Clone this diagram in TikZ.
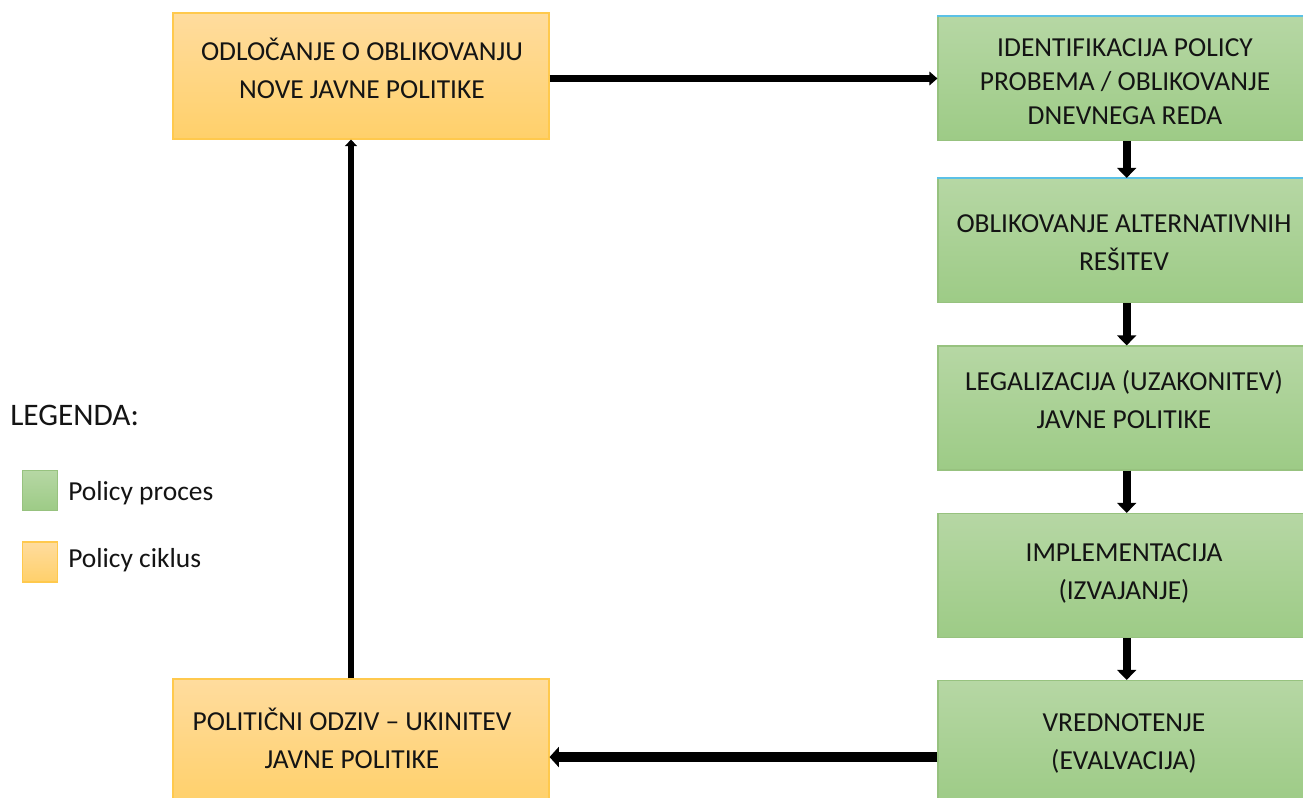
\documentclass[tikz,border=0pt]{standalone}
\usepackage{fontspec}
\setmainfont{Carlito}
\usetikzlibrary{arrows.meta}
\definecolor{gtop}{HTML}{B6D7A4}
\definecolor{gbot}{HTML}{9DCB86}
\definecolor{gline}{HTML}{97C27F}
\definecolor{otop}{HTML}{FFDC9E}
\definecolor{obot}{HTML}{FFD06A}
\definecolor{oline}{HTML}{FFC94D}
\definecolor{txt}{HTML}{141414}
\definecolor{bline}{HTML}{5BC1E6}
\begin{document}
\begin{tikzpicture}[x=0.75pt,y=-0.75pt,
  boxtext/.style={align=center, text=txt, inner sep=0pt, font=\fontsize{20.6}{28.5}\selectfont},
  tighttext/.style={boxtext, font=\fontsize{20.6}{25.5}\selectfont},
  greenbox/.style={draw=gline, line width=0.8pt, top color=gtop, bottom color=gbot, minimum width=279pt, minimum height=93pt, inner sep=0pt},
  orangebox/.style={draw=oline, line width=0.8pt, top color=otop, bottom color=obot, minimum width=282pt, minimum height=94.5pt, inner sep=0pt},
  greensq/.style={draw=gline, line width=0.8pt, top color=gtop, bottom color=gbot, minimum width=26pt, minimum height=30pt, inner sep=0pt},
  orangesq/.style={draw=oline, line width=0.8pt, top color=otop, bottom color=obot, minimum width=26pt, minimum height=30pt, inner sep=0pt},
  legtext/.style={anchor=west, text=txt, inner sep=0pt, font=\fontsize{20.6}{24}\selectfont},
  legtitlestyle/.style={anchor=west, text=txt, inner sep=0pt, font=\fontsize{23.5}{26}\selectfont},
  arrtop/.style={line width=5pt, -{Triangle[length=6pt,width=10pt]}},
  arrleft/.style={line width=5pt, -{Triangle[length=5pt,width=9pt]}},
  arrgreen/.style={line width=6pt, -{Triangle[length=7.5pt,width=14pt]}},
  arrbot/.style={line width=8pt, -{Triangle[length=7pt,width=15pt]}},
  blueedge/.style={draw=bline, line width=2pt}
]
\clip (0,0) rectangle (1303,798);
\fill[white] (0,0) rectangle (1303,798);

% boxes
\node[orangebox] (dec) at (361,76) {};
\node[orangebox] (resp) at (361,742) {};
\node[greenbox] (id) at (1124,78.5) {};
\node[greenbox] (alt) at (1124,240.5) {};
\node[greenbox] (leg) at (1124,408) {};
\node[greenbox] (impl) at (1124,575.5) {};
\node[greenbox] (eval) at (1124,742.5) {};

% texts
\node[boxtext] (dect) at (362,68) {ODLOČANJE O OBLIKOVANJU\\NOVE JAVNE POLITIKE};
\node[boxtext] (respt) at (352,738.5) {POLITIČNI ODZIV – UKINITEV\\JAVNE POLITIKE};
\node[tighttext] (idt) at (1125,81.5) {IDENTIFIKACIJA POLICY\\PROBEMA / OBLIKOVANJE\\DNEVNEGA REDA};
\node[boxtext] (altt) at (1124,242.5) {OBLIKOVANJE ALTERNATIVNIH\\REŠITEV};
\node[boxtext] (legt) at (1124,399.5) {LEGALIZACIJA (UZAKONITEV)\\JAVNE POLITIKE};
\node[boxtext] (implt) at (1124,573.5) {IMPLEMENTACIJA\\(IZVAJANJE)};
\node[boxtext] (evalt) at (1124,743.5) {VREDNOTENJE\\(EVALVACIJA)};

\draw[blueedge] (id.north west) -- (id.north east);
\draw[blueedge] (alt.north west) -- (alt.north east);

% connectors
\draw[arrtop] (id.west -| dec.east) -- (id.west);
\draw[arrleft] ([xshift=-7.5pt]resp.north) -- ([xshift=-7.5pt]dec.south);
\draw[arrgreen] ([xshift=2pt]id.south) -- ([xshift=2pt]alt.north);
\draw[arrgreen] ([xshift=2pt]alt.south) -- ([xshift=2pt]leg.north);
\draw[arrgreen] ([xshift=2pt]leg.south) -- ([xshift=2pt]impl.north);
\draw[arrgreen] ([xshift=2pt]impl.south) -- ([xshift=2pt]eval.north);
\draw[arrbot] ([yshift=-10.9pt]eval.west) -- ([yshift=-10.9pt]eval.west -| resp.east);

% legend
\node[legtitlestyle] (legtitle) at (10,415) {LEGENDA:};
\node[greensq] (lg) at (40,490.5) {};
\node[legtext] (lgt) at (68,493) {Policy proces};
\node[orangesq] (lo) at (40,562) {};
\node[legtext] (lot) at (68,560) {Policy ciklus};
\end{tikzpicture}
\end{document}
